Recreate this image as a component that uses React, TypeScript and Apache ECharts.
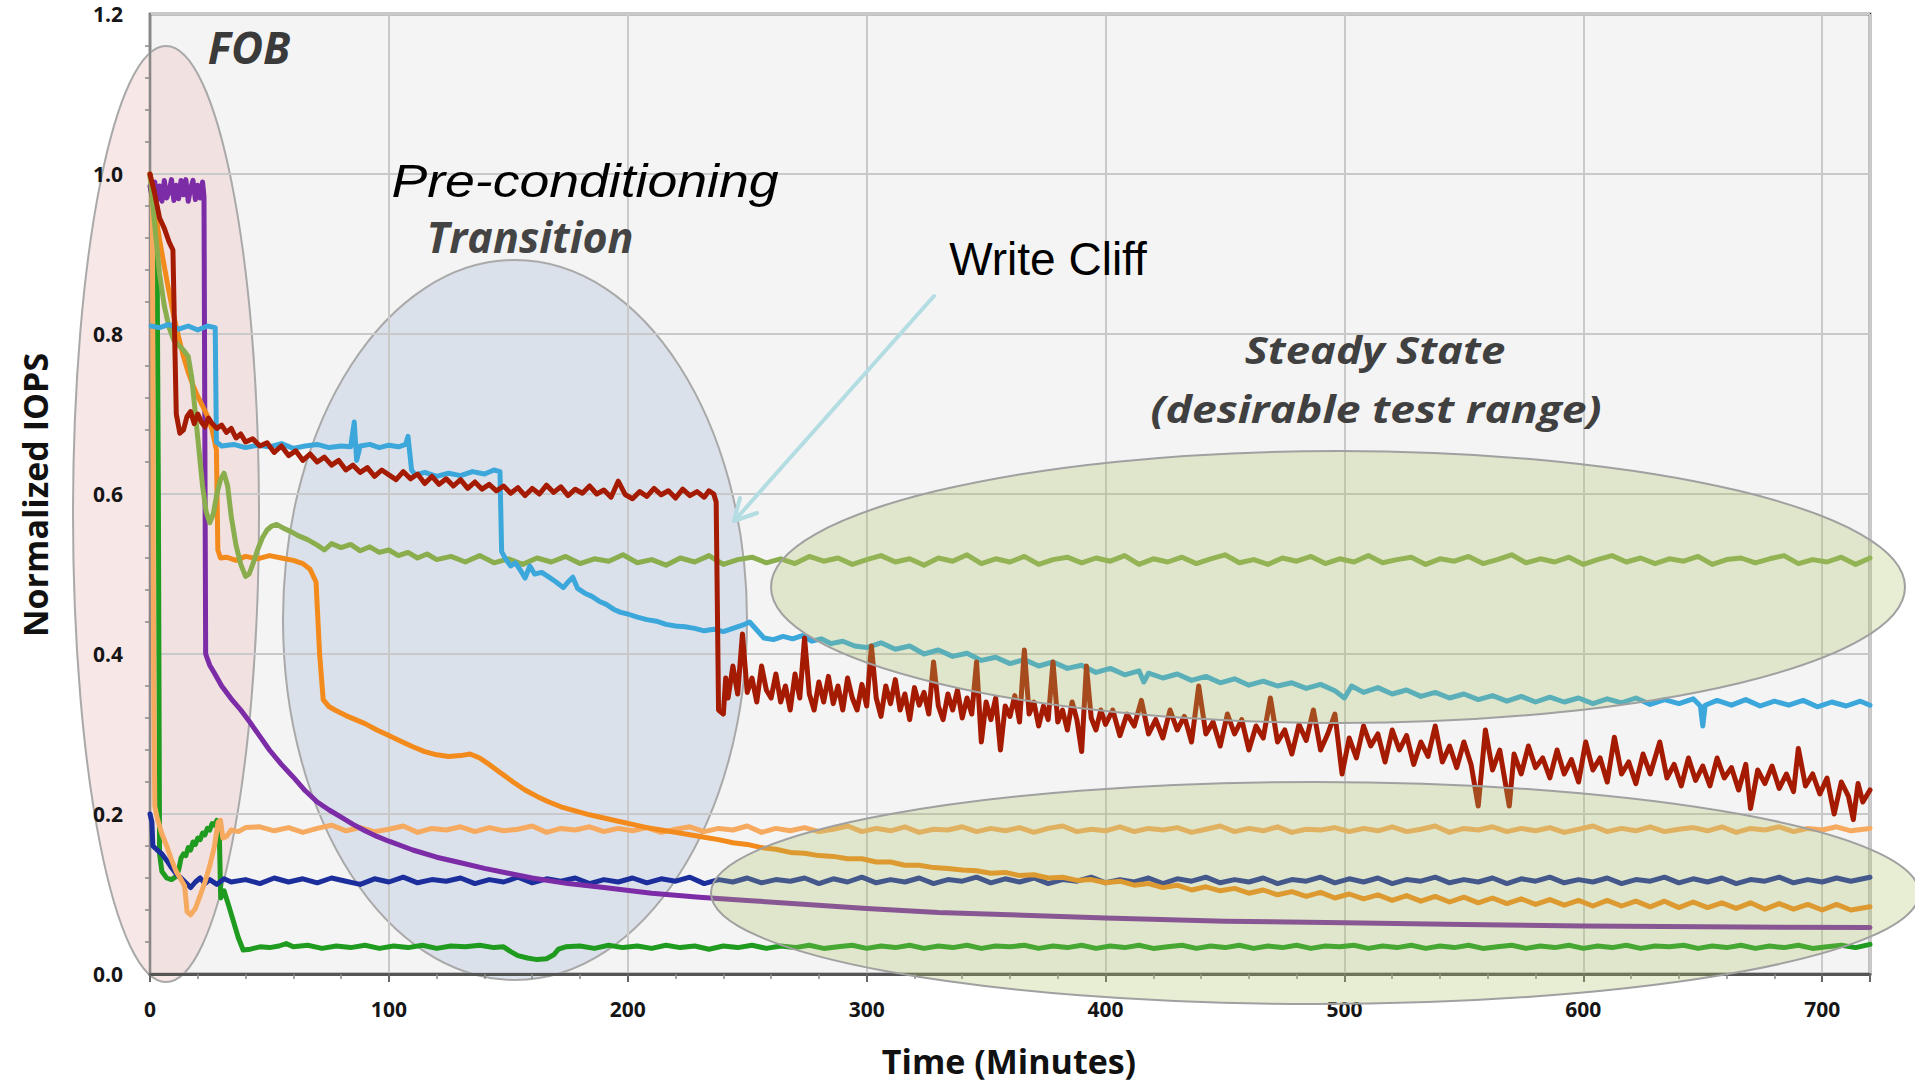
import React, { useEffect, useRef } from "react";
import * as echarts from "echarts";

// ---- data: [minutes, normalized IOPS] ----
const purpleLine: number[][] = [[0,0.985],[1,0.97],[2,0.99],[3,0.968],[4,0.985],[5,0.966],[6,0.992],[7,0.97],[8,0.978],[9,0.993],[10,0.967],[11,0.986],[12,0.969],[13,0.992],[14,0.974],[15,0.993],[16,0.966],[17,0.982],[18,0.992],[19,0.968],[20,0.986],[21,0.97],[22,0.99],[22.6,0.972],[23.3,0.4],[25,0.386],[27,0.376],[30,0.36],[34,0.344],[38,0.33],[42,0.314],[46,0.297],[50,0.28],[55,0.262],[60,0.246],[65,0.229],[70,0.215],[75,0.205],[80,0.196],[85,0.187],[90,0.179],[95,0.172],[100,0.166],[110,0.155],[120,0.146],[130,0.139],[140,0.132],[150,0.126],[160,0.12],[175,0.113],[190,0.108],[210,0.101],[230,0.096],[250,0.092],[275,0.087],[300,0.082],[330,0.077],[360,0.074],[400,0.07],[450,0.066],[500,0.064],[550,0.062],[600,0.06],[650,0.059],[720,0.058]];

const orangeLine: number[][] = [[0,1.0],[2,0.955],[4,0.918],[6,0.884],[8,0.852],[10,0.822],[12,0.796],[14,0.772],[16,0.752],[18,0.736],[20,0.722],[22,0.71],[24,0.698],[26,0.68],[27.8,0.655],[28.4,0.53],[29.5,0.52],[32,0.521],[36,0.517],[40,0.522],[45,0.519],[50,0.523],[55,0.52],[60,0.517],[64,0.513],[67,0.506],[69.5,0.49],[71,0.4],[72.5,0.343],[75,0.334],[78,0.329],[82,0.323],[86,0.318],[90,0.313],[95,0.305],[100,0.298],[105,0.291],[110,0.284],[115,0.278],[120,0.274],[125,0.272],[130,0.273],[134,0.275],[138,0.27],[142,0.262],[147,0.251],[152,0.24],[157,0.23],[162,0.222],[167,0.215],[172,0.209],[178,0.204],[184,0.199],[190,0.195],[196,0.191],[202,0.187],[208,0.183],[214,0.18],[220,0.177],[226,0.174],[232,0.171],[238,0.168],[244,0.164],[250,0.162],[256,0.158],[262,0.156],[268,0.152],[274,0.151],[280,0.148],[286,0.147],[292,0.144],[298,0.144],[304,0.14],[310,0.14],[316,0.136],[322,0.136],[328,0.133],[334,0.132],[340,0.13],[346,0.129],[352,0.126],[358,0.127],[364,0.123],[370,0.124],[376,0.12],[382,0.121],[388,0.117],[394,0.118],[400,0.114],[406,0.116],[412,0.111],[418,0.113],[424,0.108],[430,0.111],[436,0.105],[442,0.109],[448,0.104],[454,0.107],[460,0.101],[466,0.105],[472,0.099],[478,0.103],[484,0.097],[490,0.102],[496,0.095],[502,0.1],[508,0.094],[514,0.099],[520,0.092],[526,0.098],[532,0.091],[538,0.097],[544,0.09],[550,0.096],[556,0.089],[562,0.095],[568,0.088],[574,0.094],[580,0.087],[586,0.093],[592,0.086],[598,0.092],[604,0.085],[610,0.092],[616,0.085],[622,0.091],[628,0.084],[634,0.091],[640,0.083],[646,0.09],[652,0.083],[658,0.089],[664,0.082],[670,0.089],[676,0.081],[682,0.088],[688,0.081],[694,0.087],[700,0.08],[706,0.087],[712,0.08],[720,0.084]];

const oliveLine: number[][] = [[0,1.0],[2,0.935],[4,0.875],[6,0.835],[8,0.808],[10,0.792],[12,0.786],[14,0.78],[16,0.772],[17.5,0.745],[19,0.7],[20.5,0.655],[22,0.61],[23.5,0.578],[25,0.564],[26.5,0.575],[28,0.6],[29.5,0.618],[31,0.626],[32.5,0.61],[34,0.572],[36,0.536],[38,0.512],[40,0.497],[41.5,0.5],[43,0.512],[45,0.53],[47,0.545],[49,0.555],[51,0.56],[53,0.562],[56,0.557],[59,0.553],[62,0.548],[66,0.543],[70,0.536],[73,0.53],[76,0.538],[80,0.533],[84,0.537],[88,0.529],[92,0.534],[96,0.527],[100,0.53],[104,0.523],[108,0.527],[112,0.52],[116,0.525],[120,0.518],[126,0.522],[132,0.515],[138,0.523],[144,0.514],[150,0.519],[156,0.512],[162,0.52],[168,0.515],[174,0.522],[180,0.513],[186,0.519],[192,0.516],[198,0.524],[204,0.514],[210,0.518],[216,0.511],[222,0.52],[228,0.515],[234,0.523],[240,0.512],[246,0.518],[252,0.521],[258,0.514],[264,0.519],[270,0.513],[276,0.522],[282,0.516],[288,0.52],[294,0.512],[300,0.518],[306,0.523],[312,0.515],[318,0.519],[324,0.511],[330,0.52],[336,0.516],[342,0.524],[348,0.513],[354,0.519],[360,0.515],[366,0.522],[372,0.512],[378,0.518],[384,0.521],[390,0.514],[396,0.52],[402,0.516],[408,0.523],[414,0.512],[420,0.519],[426,0.515],[432,0.521],[438,0.513],[444,0.519],[450,0.524],[456,0.514],[462,0.518],[468,0.512],[474,0.52],[480,0.516],[486,0.522],[492,0.513],[498,0.519],[504,0.515],[510,0.523],[516,0.514],[522,0.518],[528,0.521],[534,0.512],[540,0.519],[546,0.516],[552,0.522],[558,0.513],[564,0.518],[570,0.524],[576,0.514],[582,0.519],[588,0.515],[594,0.521],[600,0.512],[606,0.518],[612,0.523],[618,0.515],[624,0.52],[630,0.513],[636,0.519],[642,0.516],[648,0.522],[654,0.512],[660,0.518],[666,0.52],[672,0.514],[678,0.519],[684,0.523],[690,0.513],[696,0.518],[702,0.515],[708,0.521],[714,0.512],[720,0.52]];

const lightOrangeLine: number[][] = [[0,1.0],[1,0.96],[1.5,0.4],[2,0.21],[3,0.195],[5,0.175],[7,0.16],[9,0.143],[11,0.128],[13,0.118],[14.5,0.11],[15.5,0.078],[17,0.074],[19,0.082],[21,0.098],[23,0.115],[25,0.135],[27,0.16],[28.5,0.19],[29.5,0.192],[30.5,0.17],[32,0.172],[34,0.18],[37,0.178],[40,0.183],[46,0.184],[52,0.179],[58,0.183],[64,0.177],[70,0.182],[76,0.186],[82,0.179],[88,0.183],[94,0.178],[100,0.181],[106,0.185],[112,0.177],[118,0.182],[124,0.18],[130,0.184],[136,0.178],[142,0.183],[148,0.179],[154,0.181],[160,0.185],[166,0.177],[172,0.182],[178,0.18],[184,0.184],[190,0.178],[196,0.182],[202,0.179],[208,0.183],[214,0.177],[220,0.181],[226,0.184],[232,0.178],[238,0.182],[244,0.18],[250,0.185],[256,0.177],[262,0.182],[268,0.179],[274,0.183],[280,0.178],[286,0.181],[292,0.185],[298,0.178],[304,0.182],[310,0.179],[316,0.184],[322,0.177],[328,0.181],[334,0.18],[340,0.184],[346,0.178],[352,0.182],[358,0.179],[364,0.183],[370,0.177],[376,0.182],[382,0.185],[388,0.178],[394,0.181],[400,0.179],[406,0.184],[412,0.178],[418,0.182],[424,0.18],[430,0.183],[436,0.177],[442,0.181],[448,0.185],[454,0.178],[460,0.182],[466,0.179],[472,0.184],[478,0.177],[484,0.181],[490,0.18],[496,0.183],[502,0.178],[508,0.182],[514,0.179],[520,0.184],[526,0.178],[532,0.181],[538,0.185],[544,0.177],[550,0.182],[556,0.18],[562,0.184],[568,0.178],[574,0.182],[580,0.179],[586,0.183],[592,0.177],[598,0.181],[604,0.185],[610,0.178],[616,0.182],[622,0.179],[628,0.184],[634,0.178],[640,0.181],[646,0.183],[652,0.179],[658,0.184],[664,0.177],[670,0.182],[676,0.18],[682,0.184],[688,0.178],[694,0.182],[700,0.18],[706,0.184],[712,0.179],[720,0.182]];

const darkBlueLine: number[][] = [[0,0.2],[0.8,0.19],[1.2,0.16],[3,0.155],[5,0.15],[7,0.142],[9,0.133],[11,0.125],[13,0.12],[15,0.114],[17,0.108],[19,0.115],[21,0.12],[23,0.113],[25,0.118],[28,0.112],[31,0.119],[34,0.115],[40,0.118],[46,0.113],[52,0.12],[58,0.115],[64,0.119],[70,0.114],[76,0.12],[82,0.116],[88,0.112],[94,0.119],[100,0.115],[106,0.121],[112,0.114],[118,0.118],[124,0.116],[130,0.12],[136,0.113],[142,0.118],[148,0.115],[154,0.121],[160,0.114],[166,0.119],[172,0.116],[178,0.12],[184,0.113],[190,0.118],[196,0.115],[202,0.12],[208,0.114],[214,0.119],[220,0.116],[226,0.121],[232,0.113],[238,0.118],[244,0.115],[250,0.12],[256,0.114],[262,0.118],[268,0.116],[274,0.12],[280,0.113],[286,0.119],[292,0.115],[298,0.121],[304,0.114],[310,0.118],[316,0.115],[322,0.12],[328,0.113],[334,0.118],[340,0.116],[346,0.121],[352,0.114],[358,0.119],[364,0.115],[370,0.12],[376,0.113],[382,0.118],[388,0.116],[394,0.121],[400,0.114],[406,0.118],[412,0.115],[418,0.12],[424,0.113],[430,0.119],[436,0.116],[442,0.121],[448,0.114],[454,0.118],[460,0.115],[466,0.12],[472,0.113],[478,0.118],[484,0.116],[490,0.121],[496,0.114],[502,0.119],[508,0.115],[514,0.12],[520,0.113],[526,0.118],[532,0.116],[538,0.121],[544,0.114],[550,0.118],[556,0.115],[562,0.12],[568,0.113],[574,0.119],[580,0.116],[586,0.121],[592,0.114],[598,0.118],[604,0.115],[610,0.12],[616,0.113],[622,0.118],[628,0.116],[634,0.121],[640,0.114],[646,0.119],[652,0.115],[658,0.12],[664,0.113],[670,0.118],[676,0.116],[682,0.121],[688,0.114],[694,0.118],[700,0.115],[706,0.12],[712,0.116],[720,0.121]];

const greenLine: number[][] = [[0,1.0],[1,0.96],[2,0.92],[3,0.885],[3.5,0.6],[4,0.15],[5,0.128],[7,0.12],[9,0.118],[11,0.122],[12,0.13],[13,0.145],[14,0.15],[15,0.148],[16,0.158],[17,0.155],[18,0.165],[19,0.162],[20,0.17],[21,0.168],[22,0.176],[23,0.174],[24,0.182],[25,0.18],[26,0.188],[27,0.186],[28,0.192],[29,0.178],[29.6,0.095],[31,0.104],[33,0.085],[35,0.065],[37,0.045],[39,0.03],[42,0.031],[46,0.034],[50,0.033],[54,0.035],[57,0.038],[60,0.034],[66,0.036],[72,0.032],[78,0.035],[84,0.033],[90,0.036],[96,0.032],[102,0.035],[108,0.033],[114,0.036],[120,0.032],[126,0.035],[132,0.034],[138,0.036],[144,0.033],[148,0.034],[151,0.028],[154,0.023],[158,0.02],[162,0.018],[166,0.019],[169,0.024],[171,0.031],[174,0.034],[180,0.035],[186,0.032],[192,0.036],[198,0.033],[204,0.035],[210,0.032],[216,0.036],[222,0.033],[228,0.035],[234,0.031],[240,0.035],[246,0.033],[252,0.036],[258,0.032],[264,0.035],[270,0.033],[276,0.036],[282,0.032],[288,0.034],[294,0.036],[300,0.032],[306,0.035],[312,0.033],[318,0.036],[324,0.032],[330,0.035],[336,0.033],[342,0.036],[348,0.032],[354,0.035],[360,0.034],[366,0.036],[372,0.032],[378,0.035],[384,0.033],[390,0.036],[396,0.032],[402,0.035],[408,0.033],[414,0.036],[420,0.032],[426,0.034],[432,0.036],[438,0.032],[444,0.035],[450,0.033],[456,0.036],[462,0.032],[468,0.035],[474,0.033],[480,0.036],[486,0.032],[492,0.035],[498,0.034],[504,0.036],[510,0.032],[516,0.035],[522,0.033],[528,0.036],[534,0.032],[540,0.035],[546,0.033],[552,0.036],[558,0.032],[564,0.034],[570,0.036],[576,0.032],[582,0.035],[588,0.033],[594,0.036],[600,0.032],[606,0.035],[612,0.033],[618,0.036],[624,0.032],[630,0.035],[636,0.034],[642,0.036],[648,0.032],[654,0.035],[660,0.033],[666,0.036],[672,0.032],[678,0.035],[684,0.033],[690,0.036],[696,0.032],[702,0.034],[708,0.036],[714,0.033],[720,0.037]];

const blueLine: number[][] = [[0.5,0.81],[4,0.808],[8,0.812],[12,0.806],[16,0.81],[20,0.805],[24,0.81],[27.3,0.808],[27.8,0.665],[30,0.66],[35,0.662],[40,0.658],[45,0.661],[50,0.659],[55,0.663],[60,0.657],[65,0.66],[70,0.662],[75,0.658],[80,0.66],[84,0.659],[85.5,0.69],[86.5,0.642],[88,0.66],[92,0.662],[96,0.658],[100,0.661],[104,0.659],[107,0.662],[108,0.672],[109.5,0.63],[111,0.624],[115,0.627],[120,0.622],[125,0.626],[130,0.623],[135,0.628],[140,0.625],[144,0.63],[146.5,0.628],[147.2,0.528],[149,0.518],[151,0.51],[153,0.514],[155,0.505],[157,0.495],[159,0.51],[161,0.5],[164,0.502],[167,0.496],[170,0.49],[173,0.483],[175,0.49],[177,0.496],[179,0.482],[182,0.476],[185,0.472],[188,0.466],[191,0.462],[194,0.456],[197,0.452],[200,0.45],[204,0.446],[208,0.443],[212,0.441],[216,0.437],[220,0.435],[224,0.434],[228,0.432],[232,0.429],[236,0.431],[240,0.428],[244,0.432],[248,0.436],[251,0.44],[254,0.43],[257,0.42],[261,0.418],[265,0.422],[269,0.419],[273,0.423],[277,0.416],[281,0.419],[285,0.413],[290,0.416],[295,0.41],[300,0.408],[306,0.414],[312,0.406],[318,0.41],[324,0.4],[330,0.405],[336,0.397],[342,0.401],[348,0.392],[354,0.396],[360,0.388],[366,0.393],[372,0.385],[378,0.39],[384,0.382],[390,0.386],[396,0.377],[402,0.382],[408,0.374],[414,0.379],[416,0.365],[418,0.376],[424,0.37],[430,0.375],[436,0.367],[442,0.372],[448,0.364],[454,0.369],[460,0.361],[466,0.366],[472,0.36],[478,0.364],[484,0.357],[490,0.362],[496,0.354],[500,0.345],[503,0.36],[508,0.352],[514,0.358],[520,0.35],[526,0.355],[532,0.347],[538,0.352],[544,0.345],[550,0.35],[556,0.343],[562,0.348],[568,0.341],[574,0.347],[580,0.34],[586,0.346],[592,0.34],[598,0.345],[604,0.338],[610,0.344],[616,0.339],[622,0.345],[628,0.337],[634,0.343],[640,0.338],[646,0.344],[649,0.335],[650,0.31],[651,0.336],[656,0.342],[662,0.336],[668,0.343],[674,0.335],[680,0.341],[686,0.336],[692,0.342],[698,0.334],[704,0.34],[710,0.335],[716,0.341],[720,0.336]];

const redLine: number[][] = [[0,1.0],[2,0.975],[4,0.945],[6,0.932],[8,0.915],[9.6,0.905],[10.3,0.8],[11,0.7],[12.5,0.676],[14,0.68],[15.5,0.697],[17,0.703],[18.5,0.688],[20,0.7],[21.5,0.69],[23,0.684],[24.5,0.695],[26,0.688],[28,0.682],[30,0.686],[32,0.677],[34,0.682],[36,0.67],[38,0.675],[40,0.665],[43,0.669],[46,0.66],[49,0.664],[52,0.652],[55,0.66],[58,0.648],[61,0.654],[64,0.642],[67,0.65],[70,0.64],[73,0.646],[76,0.636],[79,0.642],[82,0.63],[85,0.636],[88,0.627],[91,0.633],[94,0.622],[97,0.63],[100,0.624],[103,0.618],[106,0.628],[109,0.619],[112,0.625],[115,0.613],[118,0.622],[121,0.612],[124,0.619],[127,0.61],[130,0.618],[133,0.607],[136,0.615],[139,0.606],[142,0.612],[145,0.604],[148,0.61],[151,0.601],[154,0.608],[157,0.598],[160,0.607],[163,0.6],[166,0.611],[169,0.602],[172,0.609],[175,0.598],[178,0.606],[181,0.601],[184,0.61],[187,0.6],[190,0.605],[193,0.596],[196,0.616],[199,0.599],[202,0.594],[205,0.603],[208,0.597],[211,0.607],[214,0.599],[217,0.604],[220,0.595],[223,0.606],[226,0.598],[229,0.603],[232,0.596],[234,0.604],[236,0.6],[237,0.59],[238,0.33],[240,0.325],[241,0.37],[242,0.345],[244,0.385],[246,0.35],[248,0.425],[250,0.352],[252,0.37],[254,0.34],[256,0.385],[258,0.355],[260,0.345],[262,0.375],[264,0.34],[266,0.36],[268,0.33],[270,0.375],[272,0.345],[274,0.42],[276,0.35],[278,0.33],[280,0.365],[282,0.34],[284,0.372],[286,0.338],[288,0.36],[290,0.33],[292,0.37],[294,0.345],[296,0.33],[298,0.362],[300,0.335],[302,0.41],[304,0.345],[306,0.322],[308,0.36],[310,0.338],[312,0.368],[314,0.33],[316,0.35],[318,0.318],[320,0.358],[322,0.336],[324,0.352],[326,0.325],[328,0.39],[330,0.335],[332,0.318],[334,0.35],[336,0.33],[338,0.355],[340,0.32],[342,0.345],[344,0.325],[346,0.39],[348,0.29],[350,0.34],[352,0.318],[354,0.345],[356,0.28],[358,0.335],[360,0.322],[362,0.348],[364,0.315],[366,0.405],[368,0.325],[370,0.34],[372,0.31],[374,0.335],[376,0.318],[378,0.39],[380,0.315],[382,0.33],[384,0.305],[386,0.34],[388,0.318],[390,0.278],[392,0.385],[394,0.32],[396,0.305],[398,0.33],[400,0.312],[403,0.33],[406,0.298],[409,0.325],[412,0.31],[415,0.342],[418,0.3],[421,0.318],[424,0.295],[427,0.33],[430,0.305],[433,0.322],[436,0.29],[439,0.36],[442,0.3],[445,0.315],[448,0.285],[451,0.325],[454,0.3],[457,0.318],[460,0.28],[463,0.31],[466,0.295],[469,0.345],[472,0.29],[475,0.305],[478,0.275],[481,0.312],[484,0.292],[487,0.33],[490,0.28],[493,0.3],[496,0.325],[499,0.25],[502,0.295],[505,0.27],[508,0.31],[511,0.285],[514,0.3],[517,0.265],[520,0.305],[523,0.28],[526,0.298],[529,0.262],[532,0.29],[535,0.272],[538,0.31],[541,0.265],[544,0.285],[547,0.258],[550,0.29],[553,0.262],[556,0.21],[559,0.305],[562,0.255],[565,0.28],[567,0.245],[569,0.21],[571,0.275],[574,0.25],[577,0.285],[580,0.258],[583,0.27],[586,0.245],[589,0.28],[592,0.25],[595,0.268],[598,0.24],[601,0.29],[604,0.255],[607,0.27],[610,0.24],[613,0.296],[616,0.25],[619,0.265],[622,0.238],[625,0.275],[628,0.25],[632,0.29],[635,0.245],[638,0.262],[641,0.235],[644,0.27],[647,0.242],[650,0.26],[653,0.235],[656,0.27],[659,0.245],[662,0.258],[665,0.23],[668,0.262],[670,0.207],[673,0.255],[676,0.238],[679,0.26],[682,0.232],[685,0.25],[688,0.228],[690,0.282],[693,0.235],[696,0.25],[699,0.225],[702,0.245],[705,0.2],[708,0.24],[711,0.222],[713,0.193],[715,0.238],[717,0.215],[720,0.23]];

const seriesNames = ["Green", "Dark blue", "Light orange", "Purple", "Orange", "Olive", "Blue", "Red"];
const seriesColors = ["#1f9c1f", "#1c2e9c", "#f6aa5f", "#7b2ca6", "#f28a1c", "#8aad4e", "#3ca7db", "#a51b02"];
const seriesData = [greenLine, darkBlueLine, lightOrangeLine, purpleLine, orangeLine, oliveLine, blueLine, redLine];

const xMax = 720;
const yMax = 1.2;

export default function App() {
  const ref = useRef<HTMLDivElement>(null);
  useEffect(() => {
    if (!ref.current) return;
    const chart = echarts.init(ref.current, undefined, { renderer: "svg" });
    const labelFont = { fontFamily: "Open Sans", fontWeight: "bold" as const, color: "#151515", fontSize: 21 };
    const option: any = {
      animation: false,
      backgroundColor: "#ffffff",
      grid: {
        left: 150, right: 45, top: 14, bottom: 110,
        show: true, backgroundColor: "#f4f4f4", borderColor: "#222", borderWidth: 2.5,
        outerBoundsMode: "none",
      },
      xAxis: {
        type: "value", min: 0, max: xMax, interval: 100, z: 2,
        axisLine: { show: true, onZero: false, lineStyle: { color: "#555", width: 3 } },
        axisTick: { show: true, inside: false, length: 8, lineStyle: { color: "#666", width: 2 } },
        minorTick: { show: true, splitNumber: 5, length: 5, lineStyle: { color: "#888", width: 1.5 } },
        splitLine: { show: true, lineStyle: { color: "#c9c9c9", width: 2 } },
        axisLabel: { ...labelFont, margin: 24, formatter: (v: number) => (v % 100 === 0 ? String(v) : "") },
      },
      yAxis: {
        type: "value", min: 0, max: yMax, interval: 0.2, z: 2,
        axisLine: { show: true, lineStyle: { color: "#888", width: 2 } },
        axisTick: { show: false },
        minorTick: { show: true, splitNumber: 5, length: 5, lineStyle: { color: "#888", width: 1.5 } },
        splitLine: { show: true, lineStyle: { color: "#c9c9c9", width: 2 } },
        axisLabel: { ...labelFont, margin: 27, formatter: (v: number) => v.toFixed(1) },
      },
      series: seriesData.map((d, i) => ({
        type: "line",
        name: seriesNames[i],
        data: d,
        showSymbol: false,
        symbol: "none",
        silent: true,
        z: 3,
        lineStyle: { color: seriesColors[i], width: 5, join: "round", cap: "round" },
        itemStyle: { color: seriesColors[i] },
      })),
      graphic: [
        { type: "ellipse", z: 1, silent: true, shape: { cx: 166, cy: 514, rx: 93, ry: 468 },
          style: { fill: "rgba(237,205,205,0.47)", stroke: "#a9a9a9", lineWidth: 2 } },
        { type: "ellipse", z: 1, silent: true, shape: { cx: 515, cy: 620, rx: 232, ry: 360 },
          style: { fill: "rgba(203,213,228,0.62)", stroke: "#a9a9a9", lineWidth: 2 } },
        { type: "ellipse", z: 4, silent: true, shape: { cx: 1338, cy: 587, rx: 567, ry: 136 },
          style: { fill: "rgba(170,195,103,0.285)", stroke: "#a0a0a0", lineWidth: 2 } },
        { type: "ellipse", z: 4, silent: true, shape: { cx: 1315, cy: 893, rx: 604, ry: 111 },
          style: { fill: "rgba(170,195,103,0.285)", stroke: "#a0a0a0", lineWidth: 2 } },
        { type: "line", z: 5, silent: true, shape: { x1: 934, y1: 296, x2: 735, y2: 520 },
          style: { stroke: "#b3dde2", lineWidth: 4, lineCap: "round" } },
        { type: "polyline", z: 5, silent: true, shape: { points: [[757, 513], [734, 521], [740, 498]] },
          style: { stroke: "#b3dde2", fill: "none", lineWidth: 4, lineCap: "round", lineJoin: "round" } },
        { type: "text", z: 6, silent: true, x: 249, y: 47,
          style: { text: "FOB", fontFamily: "Open Sans", fontWeight: "bold", fontStyle: "italic", fontSize: 44, fill: "#3a3a3a", align: "center", verticalAlign: "middle" } },
        { type: "text", z: 6, silent: true, x: 585, y: 181, scaleX: 1.14,
          style: { text: "Pre-conditioning", fontFamily: "Liberation Sans", fontStyle: "italic", fontSize: 47, fill: "#000", align: "center", verticalAlign: "middle" } },
        { type: "text", z: 6, silent: true, x: 530, y: 236,
          style: { text: "Transition", fontFamily: "Open Sans", fontWeight: "bold", fontStyle: "italic", fontSize: 43, fill: "#444", align: "center", verticalAlign: "middle" } },
        { type: "text", z: 6, silent: true, x: 1048, y: 259,
          style: { text: "Write Cliff", fontFamily: "Liberation Sans", fontSize: 46, fill: "#000", align: "center", verticalAlign: "middle" } },
        { type: "text", z: 6, silent: true, x: 1375, y: 349, scaleX: 1.15,
          style: { text: "Steady State", fontFamily: "Open Sans", fontWeight: "bold", fontStyle: "italic", fontSize: 38, fill: "#404040", align: "center", verticalAlign: "middle" } },
        { type: "text", z: 6, silent: true, x: 1376, y: 408, scaleX: 1.17,
          style: { text: "(desirable test range)", fontFamily: "Open Sans", fontWeight: "bold", fontStyle: "italic", fontSize: 38, fill: "#404040", align: "center", verticalAlign: "middle" } },
        { type: "text", z: 6, silent: true, x: 35, y: 495, rotation: Math.PI / 2,
          style: { text: "Normalized IOPS", fontFamily: "Open Sans", fontWeight: "bold", fontSize: 34, fill: "#111", align: "center", verticalAlign: "middle" } },
        { type: "text", z: 6, silent: true, x: 1009, y: 1061,
          style: { text: "Time (Minutes)", fontFamily: "Open Sans", fontWeight: "bold", fontSize: 34, fill: "#111", align: "center", verticalAlign: "middle" } },
      ],
    };
    chart.setOption(option);
    return () => chart.dispose();
  }, []);
  return (
    <div
      ref={ref}
      style={{ position: "absolute", left: 0, top: 0, width: 1915, height: 1084, background: "#fff" }}
    />
  );
}
